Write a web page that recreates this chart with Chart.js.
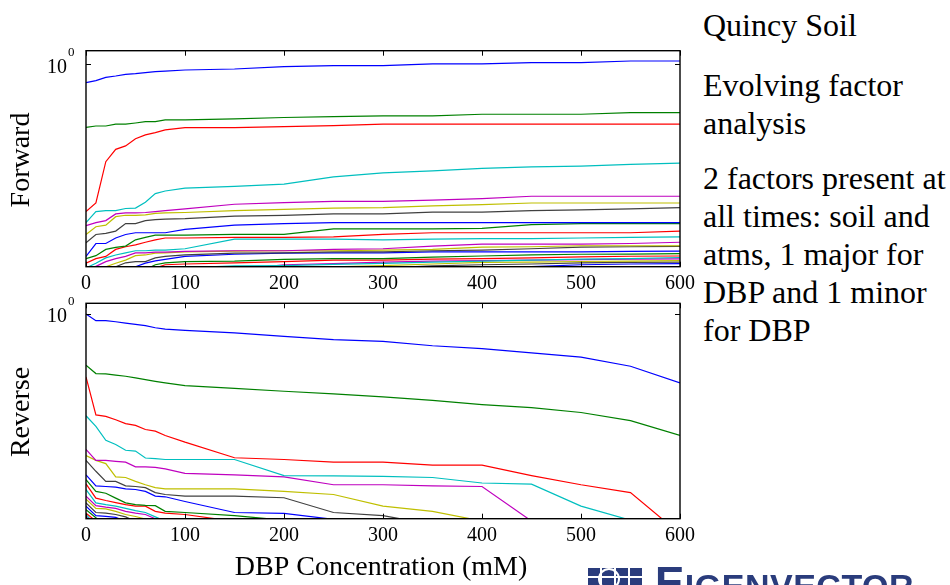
<!DOCTYPE html>
<html><head><meta charset="utf-8">
<script src="https://cdn.jsdelivr.net/npm/chart.js@4"></script>
<style>
html,body{margin:0;padding:0;background:#fff;width:950px;height:585px;overflow:hidden;}
#wrap{position:relative;width:950px;height:585px;overflow:hidden;}
canvas{position:absolute;left:0;}
#cA{top:0;width:700px;height:292px;}
#cB{top:292px;width:700px;height:293px;}
.t{position:absolute;left:703px;font-family:"Liberation Serif","Times New Roman",serif;font-size:32px;line-height:38px;color:#000;white-space:nowrap;}
#icon{position:absolute;left:588px;top:566px;width:56px;height:30px;background:#2a3c7c;
 background-image:repeating-linear-gradient(90deg,transparent 0 12px,#fff 12px 14px),repeating-linear-gradient(0deg,transparent 0 8px,#fff 8px 10px);}
#ring{position:absolute;left:598px;top:568px;width:18px;height:18px;border:2px solid #fff;border-radius:50%;}
#logo{position:absolute;left:655px;top:561px;font-family:"Liberation Sans",Arial,sans-serif;font-weight:bold;color:#2a3c7c;font-size:44px;line-height:44px;white-space:nowrap;letter-spacing:0.5px;}
#logo span{font-size:34px;}
</style></head>
<body><div id="wrap">
<canvas id="cA" width="700" height="292"></canvas>
<canvas id="cB" width="700" height="293"></canvas>
<div class="t" style="top:6px">Quincy Soil</div>
<div class="t" style="top:66px">Evolving factor</div>
<div class="t" style="top:104px">analysis</div>
<div class="t" style="top:159px">2 factors present at</div>
<div class="t" style="top:197px">all times: soil and</div>
<div class="t" style="top:235px">atms, 1 major for</div>
<div class="t" style="top:273px">DBP and 1 minor</div>
<div class="t" style="top:311px">for DBP</div>
<div id="icon"></div><div id="ring"></div>
<div id="logo">E<span>IGENVECTOR</span></div>
</div>
<script>
const xValues = [0,10,20,30,40,50,60,70,80,100,150,200,250,300,350,400,450,500,550,600];
const xTicks = [0,100,200,300,400,500,600];
const xTickLabels = ['0','100','200','300','400','500','600'];
const yTicks = [1];
const colors = ['#0000ff','#008000','#ff0000','#00bfbf','#bf00bf','#bfbf00','#404040'];

const forward1 = [0.822,0.840,0.870,0.883,0.899,0.906,0.916,0.924,0.929,0.941,0.951,0.975,0.986,0.986,1.004,1.004,1.018,1.018,1.036,1.036];
const forward2 = [0.511,0.518,0.518,0.528,0.528,0.535,0.543,0.543,0.553,0.553,0.559,0.567,0.573,0.577,0.577,0.587,0.587,0.587,0.598,0.598];
const forward3 = [0.208,0.228,0.354,0.404,0.419,0.452,0.471,0.483,0.497,0.509,0.509,0.515,0.520,0.528,0.528,0.528,0.528,0.528,0.528,0.528];
const forward4 = [0.185,0.208,0.210,0.210,0.215,0.216,0.230,0.252,0.259,0.267,0.272,0.279,0.301,0.314,0.321,0.330,0.335,0.338,0.344,0.349];
const forward5 = [0.179,0.185,0.189,0.203,0.205,0.205,0.206,0.208,0.210,0.214,0.225,0.229,0.232,0.232,0.235,0.239,0.245,0.245,0.245,0.245];
const forward6 = [0.163,0.177,0.180,0.197,0.200,0.200,0.201,0.204,0.205,0.206,0.210,0.213,0.216,0.217,0.221,0.224,0.228,0.228,0.228,0.228];
const forward7 = [0.149,0.163,0.165,0.169,0.183,0.183,0.189,0.191,0.192,0.193,0.198,0.200,0.203,0.203,0.207,0.207,0.210,0.212,0.214,0.217];
const forward8 = [0.129,0.148,0.148,0.157,0.163,0.166,0.166,0.166,0.166,0.172,0.180,0.183,0.185,0.185,0.185,0.185,0.185,0.185,0.185,0.185];
const forward9 = [0.126,0.130,0.139,0.142,0.144,0.154,0.158,0.162,0.162,0.162,0.163,0.163,0.173,0.173,0.173,0.174,0.181,0.183,0.183,0.183];
const forward10 = [0.120,0.126,0.129,0.139,0.143,0.146,0.150,0.154,0.157,0.157,0.158,0.158,0.159,0.163,0.166,0.166,0.166,0.166,0.166,0.169];
const forward11 = [0.114,0.120,0.127,0.131,0.134,0.137,0.137,0.138,0.138,0.140,0.155,0.155,0.155,0.154,0.155,0.156,0.156,0.157,0.158,0.159];
const forward12 = [0.110,0.116,0.122,0.126,0.129,0.134,0.134,0.135,0.135,0.136,0.137,0.137,0.139,0.140,0.144,0.147,0.147,0.147,0.148,0.150];
const forward13 = [0.106,0.111,0.1155,0.120,0.124,0.130,0.131,0.1335,0.134,0.1355,0.1365,0.137,0.137,0.138,0.139,0.1425,0.143,0.1445,0.1445,0.1445];
const forward14 = [0.100,0.105,0.110,0.1155,0.1205,0.122,0.122,0.127,0.129,0.131,0.1335,0.134,0.1355,0.1355,0.137,0.138,0.140,0.1425,0.143,0.1435];
const forward15 = [0.090,0.094,0.098,0.102,0.110,0.1156,0.120,0.123,0.125,0.129,0.132,0.1335,0.134,0.134,0.1355,0.1355,0.1355,0.1355,0.136,0.1365];
const forward16 = [0.081,0.0845,0.088,0.0925,0.096,0.102,0.112,0.118,0.1205,0.122,0.1227,0.125,0.126,0.126,0.128,0.1296,0.131,0.132,0.1323,0.1328];
const forward17 = [0.077,0.081,0.0855,0.090,0.095,0.100,0.106,0.114,0.118,0.119,0.1205,0.122,0.124,0.124,0.1253,0.126,0.127,0.1285,0.1292,0.1296];
const forward18 = [0.066,0.069,0.073,0.077,0.081,0.0855,0.090,0.098,0.105,0.1142,0.1167,0.117,0.1185,0.1197,0.1213,0.1227,0.124,0.1253,0.126,0.1275];
const forward19 = [0.059,0.062,0.0656,0.069,0.073,0.077,0.081,0.0855,0.090,0.098,0.112,0.118,0.1195,0.1215,0.1227,0.1233,0.124,0.1247,0.1253,0.1257];
const forward20 = [0.053,0.056,0.059,0.062,0.0656,0.069,0.073,0.077,0.081,0.088,0.098,0.1096,0.1155,0.117,0.119,0.121,0.1215,0.1222,0.1227,0.1233];
const forward21 = [0.050,0.052,0.054,0.056,0.058,0.060,0.062,0.064,0.066,0.070,0.080,0.090,0.105,0.114,0.1167,0.118,0.119,0.1205,0.121,0.1215];
const forward22 = [0.045,0.047,0.049,0.051,0.053,0.055,0.057,0.059,0.061,0.065,0.072,0.080,0.090,0.100,0.108,0.113,0.1156,0.118,0.119,0.1195];

const reverse1 = [1.0,0.931,0.931,0.921,0.908,0.895,0.883,0.864,0.852,0.840,0.817,0.788,0.761,0.747,0.713,0.692,0.661,0.631,0.573,0.480];
const reverse2 = [0.579,0.530,0.528,0.521,0.515,0.506,0.497,0.488,0.480,0.466,0.453,0.439,0.427,0.413,0.398,0.381,0.369,0.350,0.321,0.274];
const reverse3 = [0.511,0.341,0.336,0.324,0.311,0.305,0.292,0.287,0.274,0.255,0.216,0.212,0.206,0.206,0.1995,0.1995,0.1787,0.162,0.149,0.096];
const reverse4 = [0.338,0.302,0.260,0.249,0.234,0.232,0.2155,0.214,0.212,0.212,0.212,0.1787,0.178,0.177,0.175,0.165,0.163,0.129,0.111,0.090];
const reverse5 = [0.236,0.210,0.210,0.208,0.206,0.196,0.196,0.195,0.192,0.183,0.180,0.176,0.162,0.162,0.160,0.159,0.110,0.076,0.053,0.037];
const reverse6 = [0.221,0.210,0.203,0.176,0.175,0.168,0.162,0.157,0.155,0.155,0.155,0.151,0.146,0.129,0.122,0.110,0.090,0.073,0.059,0.048];
const reverse7 = [0.210,0.187,0.168,0.168,0.160,0.159,0.157,0.149,0.146,0.1435,0.1435,0.141,0.1205,0.1165,0.106,0.095,0.0855,0.077,0.069,0.062];
const reverse8 = [0.180,0.160,0.159,0.158,0.155,0.154,0.151,0.1435,0.1425,0.1355,0.1205,0.1195,0.112,0.095,0.081,0.069,0.059,0.050,0.043,0.037];
const reverse9 = [0.171,0.151,0.148,0.1405,0.1335,0.131,0.130,0.1296,0.122,0.1205,0.1165,0.111,0.095,0.081,0.069,0.059,0.050,0.043,0.037,0.031];
const reverse10 = [0.1635,0.1405,0.137,0.134,0.131,0.129,0.129,0.122,0.1197,0.118,0.1096,0.095,0.081,0.069,0.059,0.050,0.043,0.037,0.031,0.027];
const reverse11 = [0.154,0.1335,0.131,0.129,0.126,0.123,0.1205,0.115,0.110,0.095,0.081,0.069,0.059,0.050,0.043,0.037,0.031,0.027,0.023,0.020];
const reverse12 = [0.1435,0.1296,0.1275,0.126,0.122,0.1197,0.118,0.1128,0.106,0.090,0.077,0.066,0.056,0.048,0.041,0.035,0.030,0.026,0.022,0.019];
const reverse13 = [0.139,0.126,0.1253,0.122,0.118,0.1155,0.1125,0.106,0.100,0.090,0.077,0.066,0.056,0.048,0.041,0.035,0.030,0.026,0.022,0.019];
const reverse14 = [0.1335,0.1205,0.1197,0.118,0.115,0.1096,0.103,0.097,0.091,0.082,0.070,0.060,0.051,0.044,0.038,0.033,0.028,0.024,0.021,0.018];
const reverse15 = [0.129,0.1165,0.1156,0.1145,0.1096,0.103,0.097,0.091,0.085,0.077,0.066,0.056,0.048,0.041,0.035,0.030,0.026,0.022,0.019,0.016];
const reverse16 = [0.124,0.114,0.106,0.098,0.091,0.085,0.079,0.074,0.069,0.062,0.053,0.045,0.039,0.033,0.028,0.024,0.021,0.018,0.015,0.013];
const reverse17 = [0.1197,0.110,0.102,0.095,0.088,0.082,0.076,0.071,0.066,0.059,0.050,0.043,0.037,0.031,0.027,0.023,0.020,0.017,0.014,0.012];
const reverse18 = [0.118,0.105,0.097,0.090,0.084,0.078,0.072,0.067,0.062,0.056,0.048,0.041,0.035,0.030,0.025,0.022,0.019,0.016,0.014,0.012];
const reverse19 = [0.1156,0.104,0.096,0.089,0.082,0.076,0.071,0.066,0.061,0.055,0.047,0.040,0.034,0.029,0.025,0.021,0.018,0.015,0.013,0.011];
const reverse20 = [0.1142,0.103,0.095,0.088,0.081,0.075,0.070,0.065,0.060,0.054,0.046,0.039,0.033,0.028,0.024,0.021,0.018,0.015,0.013,0.011];

const forwardSeries = [forward1,forward2,forward3,forward4,forward5,forward6,forward7,forward8,forward9,forward10,forward11,forward12,forward13,forward14,forward15,forward16,forward17,forward18,forward19,forward20,forward21,forward22];
const reverseSeries = [reverse1,reverse2,reverse3,reverse4,reverse5,reverse6,reverse7,reverse8,reverse9,reverse10,reverse11,reverse12,reverse13,reverse14,reverse15,reverse16,reverse17,reverse18,reverse19,reverse20];

const SERIF = '"Liberation Serif","Times New Roman",serif';

function decor(opts){
  return {
    id:'decor',
    afterDatasetsDraw(chart){
      const ctx = chart.ctx, a = chart.chartArea;
      const xs = chart.scales.x, ys = chart.scales.y;
      ctx.save();
      ctx.strokeStyle = '#000';
      ctx.lineWidth = 1;
      ctx.beginPath();
      xTicks.forEach(v=>{
        const px = Math.round(xs.getPixelForValue(v))+0.5;
        ctx.moveTo(px,a.bottom); ctx.lineTo(px,a.bottom-5);
        ctx.moveTo(px,a.top); ctx.lineTo(px,a.top+5);
      });
      yTicks.forEach(v=>{
        const py = Math.round(ys.getPixelForValue(v))+0.5;
        ctx.moveTo(a.left,py); ctx.lineTo(a.left+5,py);
        ctx.moveTo(a.right,py); ctx.lineTo(a.right-5,py);
      });
      ctx.stroke();
      ctx.lineWidth = 1.4;
      ctx.strokeRect(a.left,a.top,a.right-a.left,a.bottom-a.top);
      ctx.fillStyle = '#000';
      ctx.font = '20px '+SERIF;
      ctx.textAlign = 'center'; ctx.textBaseline = 'middle';
      xTicks.forEach((v,i)=>ctx.fillText(xTickLabels[i], xs.getPixelForValue(v), a.bottom+17));
      yTicks.forEach(v=>{
        const py = ys.getPixelForValue(v);
        ctx.font = '20px '+SERIF; ctx.textAlign = 'right';
        ctx.fillText('10', a.left-19, py+3);
        ctx.font = '13px '+SERIF; ctx.textAlign = 'left';
        ctx.fillText('0', a.left-18, py-12);
      });
      ctx.font = '28px '+SERIF;
      ctx.save();
      ctx.translate(22, opts.yTitleY);
      ctx.rotate(-Math.PI/2);
      ctx.textAlign = 'center'; ctx.textBaseline = 'middle';
      ctx.fillText(opts.yTitle, 0, 0);
      ctx.restore();
      if (opts.xTitle){
        ctx.textAlign = 'center'; ctx.textBaseline = 'middle';
        ctx.fillText(opts.xTitle, 381, opts.xTitleY);
      }
      ctx.restore();
    }
  };
}

function makeChart(id, series, padTop, padBottom, yMin, yMax, opts){
  return new Chart(document.getElementById(id), {
    type:'line',
    data:{
      datasets: series.map((d,i)=>({
        data: xValues.map((x,j)=>({x:x, y:d[j]})),
        borderColor: colors[i%7],
        borderWidth: 1.2,
        pointRadius: 0,
        fill: false,
        tension: 0
      }))
    },
    options:{
      responsive:false, animation:false, events:[],
      layout:{padding:{left:86,right:20,top:padTop,bottom:padBottom}},
      plugins:{legend:{display:false},tooltip:{enabled:false},title:{display:false}},
      scales:{
        x:{type:'linear',min:0,max:600,display:false},
        y:{type:'logarithmic',min:yMin,max:yMax,display:false}
      }
    },
    plugins:[decor(opts)]
  });
}

makeChart('cA', forwardSeries, 50.7, 25.3, 0.1156, 1.156, {yTitle:'Forward', yTitleY:160});
makeChart('cB', reverseSeries, 11.3, 66.3, 0.1128, 1.121, {yTitle:'Reverse', yTitleY:120, xTitle:'DBP Concentration (mM)', xTitleY:276});
</script>
</body></html>
